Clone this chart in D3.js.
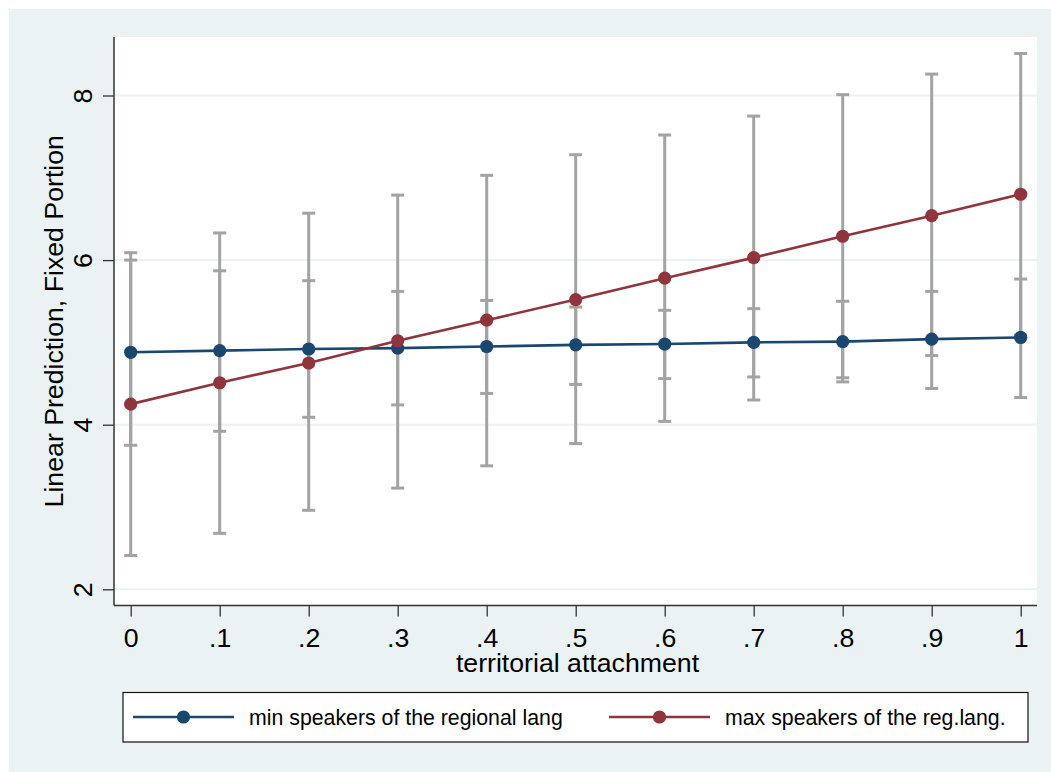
<!DOCTYPE html>
<html>
<head>
<meta charset="utf-8">
<script src="https://cdn.jsdelivr.net/npm/d3@7"></script>
<style>
  body { margin: 0; background: #fff; }
  svg { display: block; font-family: "Liberation Sans", Arial, sans-serif; }
</style>
</head>
<body>
<div id="chart"></div>
<script>
// territorial attachment values (x)
const xValues = [0, 0.1, 0.2, 0.3, 0.4, 0.5, 0.6, 0.7, 0.8, 0.9, 1];
const xTickLabels = ["0", ".1", ".2", ".3", ".4", ".5", ".6", ".7", ".8", ".9", "1"];
const yTicks = [2, 4, 6, 8];

// min speakers of the regional lang
const minPred = [4.88, 4.90, 4.92, 4.93, 4.95, 4.97, 4.98, 5.00, 5.01, 5.04, 5.06];
const minLo   = [3.75, 3.92, 4.09, 4.24, 4.38, 4.49, 4.56, 4.58, 4.52, 4.44, 4.33];
const minHi   = [6.00, 5.87, 5.75, 5.62, 5.51, 5.43, 5.39, 5.41, 5.50, 5.62, 5.77];

// max speakers of the reg.lang.
const maxPred = [4.25, 4.51, 4.75, 5.02, 5.27, 5.52, 5.78, 6.03, 6.29, 6.54, 6.80];
const maxLo   = [2.41, 2.68, 2.96, 3.23, 3.50, 3.77, 4.04, 4.30, 4.57, 4.84, 5.09];
const maxHi   = [6.09, 6.33, 6.57, 6.79, 7.03, 7.28, 7.52, 7.75, 8.01, 8.26, 8.51];

const seriesNames = ["min speakers of the regional lang", "max speakers of the reg.lang."];
const colors = ["#1a476f", "#90353b"];

const W = 1051, H = 772;
const plot = {left: 114, right: 1037, top: 37, bottom: 605.5};
const axisFont = "26.7px";

const svg = d3.select("#chart").append("svg")
    .attr("width", W)
    .attr("height", H);

// outer graph region
svg.append("rect")
    .attr("x", 9).attr("y", 9)
    .attr("width", W - 9).attr("height", H - 9)
    .attr("fill", "#eaf2f3");

// plot region
svg.append("rect")
    .attr("x", plot.left).attr("y", plot.top)
    .attr("width", plot.right - plot.left).attr("height", plot.bottom - plot.top)
    .attr("fill", "#fff");

let x = d3.scaleLinear().domain([0, 1]).range([130.7, 1020.7]);
let y = d3.scaleLinear().domain([2, 8]).range([589.3, 95.5]);

// grid lines
svg.append("g")
    .selectAll("line")
    .data(yTicks)
    .enter().append("line")
    .attr("x1", plot.left).attr("x2", plot.right)
    .attr("y1", d => y(d)).attr("y2", d => y(d))
    .attr("stroke", "#eaf2f3")
    .attr("stroke-width", 2);

// confidence intervals
let ci = [];
xValues.forEach(function(v, i) {
    ci.push({x: v, lo: minLo[i], hi: minHi[i]});
    ci.push({x: v, lo: maxLo[i], hi: maxHi[i]});
});

let ciG = svg.append("g")
    .attr("stroke", "#a3a3a3")
    .attr("stroke-width", 3)
    .attr("fill", "none");

ciG.selectAll(".bar")
    .data(ci)
    .enter().append("line")
    .attr("x1", d => x(d.x)).attr("x2", d => x(d.x))
    .attr("y1", d => y(d.lo)).attr("y2", d => y(d.hi));

ciG.selectAll(".capLo")
    .data(ci)
    .enter().append("line")
    .attr("x1", d => x(d.x) - 6.5).attr("x2", d => x(d.x) + 6.5)
    .attr("y1", d => y(d.lo)).attr("y2", d => y(d.lo));

ciG.selectAll(".capHi")
    .data(ci)
    .enter().append("line")
    .attr("x1", d => x(d.x) - 6.5).attr("x2", d => x(d.x) + 6.5)
    .attr("y1", d => y(d.hi)).attr("y2", d => y(d.hi));

// prediction lines
let line = d3.line()
    .x(d => x(d[0]))
    .y(d => y(d[1]));

[minPred, maxPred].forEach(function(pred, k) {
    let pts = xValues.map((v, i) => [v, pred[i]]);
    svg.append("path")
        .datum(pts)
        .attr("d", line)
        .attr("fill", "none")
        .attr("stroke", colors[k])
        .attr("stroke-width", 2.6);
    svg.append("g")
        .selectAll("circle")
        .data(pts)
        .enter().append("circle")
        .attr("cx", d => x(d[0]))
        .attr("cy", d => y(d[1]))
        .attr("r", 6.6)
        .attr("fill", colors[k]);
});

// x axis
let xAxis = svg.append("g")
    .attr("transform", "translate(0," + plot.bottom + ")")
    .call(d3.axisBottom(x)
        .tickValues(xValues)
        .tickFormat((d, i) => xTickLabels[i])
        .tickSize(11)
        .tickSizeOuter(0));
xAxis.select(".domain")
    .attr("d", "M" + plot.left + ",0H" + plot.right)
    .attr("stroke", "#333")
    .attr("stroke-width", 1.5);
xAxis.selectAll(".tick line").attr("stroke", "#333").attr("stroke-width", 1.3);
xAxis.selectAll(".tick text")
    .attr("y", 41.5)
    .attr("dy", 0)
    .attr("fill", "#000")
    .style("font-size", axisFont)
    .style("font-family", "Liberation Sans, Arial, sans-serif");

// y axis
let yAxis = svg.append("g")
    .attr("transform", "translate(" + plot.left + ",0)")
    .call(d3.axisLeft(y)
        .tickValues(yTicks)
        .tickFormat(d3.format("d"))
        .tickSize(11)
        .tickSizeOuter(0));
yAxis.select(".domain")
    .attr("d", "M0," + plot.top + "V" + plot.bottom)
    .attr("stroke", "#333")
    .attr("stroke-width", 1.5);
yAxis.selectAll(".tick line").attr("stroke", "#333").attr("stroke-width", 1.3);
yAxis.selectAll(".tick text")
    .attr("transform", "rotate(-90)")
    .attr("x", 0)
    .attr("y", -22)
    .attr("dy", 0)
    .attr("text-anchor", "middle")
    .attr("fill", "#000")
    .style("font-size", axisFont)
    .style("font-family", "Liberation Sans, Arial, sans-serif");

// axis titles
svg.append("text")
    .attr("transform", "translate(63," + ((plot.top + plot.bottom) / 2) + ") rotate(-90)")
    .attr("text-anchor", "middle")
    .style("font-size", axisFont)
    .text("Linear Prediction, Fixed Portion");

svg.append("text")
    .attr("x", (plot.left + plot.right) / 2 + 2)
    .attr("y", 672)
    .attr("text-anchor", "middle")
    .style("font-size", axisFont)
    .text("territorial attachment");

// legend
svg.append("rect")
    .attr("x", 123).attr("y", 692.5)
    .attr("width", 905).attr("height", 49.5)
    .attr("fill", "#fff")
    .attr("stroke", "#111")
    .attr("stroke-width", 1.2);

let legendX = [133, 609];
let legend = svg.append("g")
    .selectAll("g")
    .data(seriesNames)
    .enter().append("g")
    .attr("transform", (d, i) => "translate(" + legendX[i] + ",717)");

legend.append("line")
    .attr("x1", 0).attr("x2", 101)
    .attr("stroke", (d, i) => colors[i])
    .attr("stroke-width", 2.6);
legend.append("circle")
    .attr("cx", 50.5)
    .attr("r", 6.6)
    .attr("fill", (d, i) => colors[i]);
legend.append("text")
    .attr("x", 116)
    .attr("y", 8)
    .style("font-size", "21.3px")
    .text(d => d);
</script>
</body>
</html>
